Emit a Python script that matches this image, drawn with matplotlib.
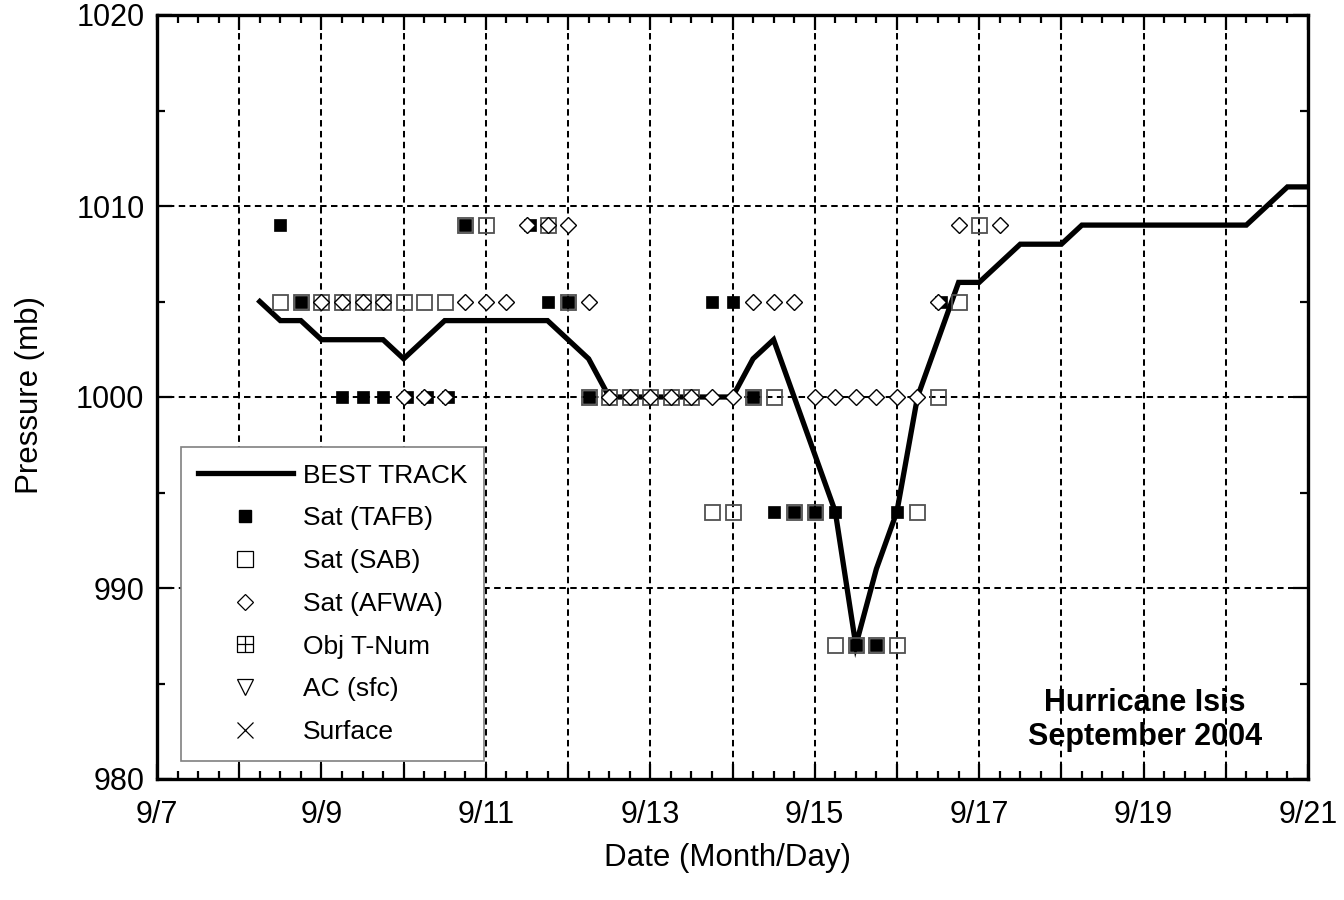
import matplotlib
matplotlib.use("Agg")
import matplotlib.pyplot as plt
from matplotlib.path import Path
from matplotlib.lines import Line2D
from matplotlib.ticker import FixedLocator, MultipleLocator, FuncFormatter

plt.rcParams['font.family'] = ['Liberation Sans', 'DejaVu Sans']

# ---- data (day of September 2004, pressure mb) ----
bt_day = [8.25, 8.5, 8.75, 9.0, 9.25, 9.5, 9.75, 10.0, 10.25, 10.5, 10.75, 11.0,
          11.25, 11.5, 11.75, 12.0, 12.25, 12.5, 12.75, 13.0, 13.25, 13.5, 13.75,
          14.0, 14.25, 14.5, 14.75, 15.0, 15.25, 15.5, 15.75, 16.0, 16.25, 16.5,
          16.75, 17.0, 17.25, 17.5, 17.75, 18.0, 18.25, 18.5, 18.75, 19.0, 19.25,
          19.5, 19.75, 20.0, 20.25, 20.5, 20.75, 21.0]
bt_pres = [1005, 1004, 1004, 1003, 1003, 1003, 1003, 1002, 1003, 1004, 1004, 1004,
           1004, 1004, 1004, 1003, 1002, 1000, 1000, 1000, 1000, 1000, 1000,
           1000, 1002, 1003, 1000, 997, 994, 987, 991, 994, 1000, 1003,
           1006, 1006, 1007, 1008, 1008, 1008, 1009, 1009, 1009, 1009, 1009,
           1009, 1009, 1009, 1009, 1010, 1011, 1011]

tafb_day = [8.5, 10.75, 11.54, 8.75, 11.75, 12.0, 13.75, 14.0, 16.54,
            9.25, 9.5, 9.75, 10.04, 10.29, 10.54, 12.25, 14.25,
            14.5, 14.75, 15.0, 15.25, 16.0, 15.5, 15.75]
tafb_pres = [1009, 1009, 1009, 1005, 1005, 1005, 1005, 1005, 1005,
             1000, 1000, 1000, 1000, 1000, 1000, 1000, 1000,
             994, 994, 994, 994, 994, 987, 987]

sab_day = [10.75, 11.0, 11.75, 17.0,
           8.5, 8.75, 9.0, 9.25, 9.5, 9.75, 10.0, 10.25, 10.5, 12.0, 16.75,
           12.25, 12.5, 12.75, 13.0, 13.25, 13.5, 14.25, 14.5, 16.5,
           13.75, 14.0, 14.75, 15.0, 16.25,
           15.25, 15.5, 15.75, 16.0]
sab_pres = [1009, 1009, 1009, 1009,
            1005, 1005, 1005, 1005, 1005, 1005, 1005, 1005, 1005, 1005, 1005,
            1000, 1000, 1000, 1000, 1000, 1000, 1000, 1000, 1000,
            994, 994, 994, 994, 994,
            987, 987, 987, 987]

afwa_day = [11.5, 11.75, 12.0, 16.75, 17.25,
            9.0, 9.25, 9.5, 9.75, 10.75, 11.0, 11.25, 12.25, 14.25, 14.5, 14.75, 16.5,
            10.0, 10.25, 10.5, 12.5, 12.75, 13.0, 13.25, 13.5, 13.75, 14.0,
            15.0, 15.25, 15.5, 15.75, 16.0, 16.25]
afwa_pres = [1009, 1009, 1009, 1009, 1009,
             1005, 1005, 1005, 1005, 1005, 1005, 1005, 1005, 1005, 1005, 1005, 1005,
             1000, 1000, 1000, 1000, 1000, 1000, 1000, 1000, 1000, 1000,
             1000, 1000, 1000, 1000, 1000, 1000]

x_ticks = list(range(7, 22))
y_ticks = [980, 990, 1000, 1010, 1020]

legend_labels = ['BEST TRACK', 'Sat (TAFB)', 'Sat (SAB)', 'Sat (AFWA)',
                 'Obj T-Num', 'AC (sfc)', 'Surface']
title_text = 'Hurricane Isis\nSeptember 2004'
x_label = 'Date (Month/Day)'
y_label = 'Pressure (mb)'

# ---- figure ----
fig = plt.figure(figsize=(13.44, 9.0), dpi=100)
ax = fig.add_axes([157/1344, 1 - 779/900, (1308 - 157)/1344, (779 - 15)/900])

ax.set_xlim(7, 21)
ax.set_ylim(980, 1020)

grid_ls = (0, (3.2, 2.2))
ax.xaxis.set_major_locator(FixedLocator(x_ticks))
ax.xaxis.set_minor_locator(MultipleLocator(0.25))
ax.xaxis.set_major_formatter(FuncFormatter(lambda v, p: f'9/{int(round(v))}' if int(round(v)) % 2 == 1 else ''))
ax.yaxis.set_major_locator(FixedLocator(y_ticks))
ax.yaxis.set_minor_locator(MultipleLocator(5))
ax.grid(True, which='major', color='black', linestyle=grid_ls, linewidth=1.45)

ax.tick_params(which='both', direction='in', top=True, right=True, width=1.6,
               labelsize=22)
ax.tick_params(axis='x', which='both', pad=15)
ax.tick_params(axis='y', which='both', pad=9)
ax.tick_params(which='major', length=10.5)
ax.tick_params(which='minor', length=6)
for s in ax.spines.values():
    s.set_linewidth(2.4)

ax.plot(bt_day, bt_pres, color='black', linewidth=3.8, solid_joinstyle='miter', zorder=3)
ax.plot(sab_day, sab_pres, linestyle='none', marker='s', markersize=10.8,
        markerfacecolor='none', markeredgecolor='#505050', markeredgewidth=1.3, zorder=4)
ax.plot(tafb_day, tafb_pres, linestyle='none', marker='s', markersize=9.2,
        markerfacecolor='black', markeredgecolor='black', markeredgewidth=0.5, zorder=5)
ax.plot(afwa_day, afwa_pres, linestyle='none', marker='D', markersize=8.0,
        markerfacecolor='white', markeredgecolor='black', markeredgewidth=1.0, zorder=6)

ax.text(19.02, 983.1, title_text, ha='center', va='center', fontsize=22,
        fontweight='bold', linespacing=1.15, zorder=7)

fig.text(727/1344, 1 - 858/900, x_label, ha='center', va='center', fontsize=22.5)
fig.text(30/1344, 1 - 395/900, y_label, ha='center', va='center', fontsize=22.5,
         rotation=90)

# legend
grid_marker = Path([(-1, -1), (1, -1), (1, 1), (-1, 1), (-1, -1),
                    (0, -1), (0, 1), (-1, 0), (1, 0)],
                   [Path.MOVETO, Path.LINETO, Path.LINETO, Path.LINETO, Path.CLOSEPOLY,
                    Path.MOVETO, Path.LINETO, Path.MOVETO, Path.LINETO])
handles = [
    Line2D([], [], color='black', linewidth=3.8),
    Line2D([], [], linestyle='none', marker='s', markersize=9.2, markerfacecolor='black',
           markeredgecolor='black'),
    Line2D([], [], linestyle='none', marker='s', markersize=11, markerfacecolor='none',
           markeredgecolor='black', markeredgewidth=0.9),
    Line2D([], [], linestyle='none', marker='D', markersize=8, markerfacecolor='none',
           markeredgecolor='black', markeredgewidth=0.9),
    Line2D([], [], linestyle='none', marker=grid_marker, markersize=11, markerfacecolor='none',
           markeredgecolor='black', markeredgewidth=0.9),
    Line2D([], [], linestyle='none', marker='v', markersize=12, markerfacecolor='none',
           markeredgecolor='black', markeredgewidth=0.9),
    Line2D([], [], linestyle='none', marker='x', markersize=12, markerfacecolor='none',
           markeredgecolor='black', markeredgewidth=0.9),
]
leg = fig.legend(handles, legend_labels, loc='lower left',
                 bbox_to_anchor=(181/1344, 1 - 761/900), bbox_transform=fig.transFigure,
                 fontsize=19, frameon=True, fancybox=False, framealpha=1,
                 edgecolor='#808080', handlelength=3.6, handletextpad=0.38,
                 borderpad=0.64, labelspacing=0.71, borderaxespad=0)
leg.get_frame().set_linewidth(1.2)
leg.set_zorder(10)

fig.savefig('out.png', dpi=100)
